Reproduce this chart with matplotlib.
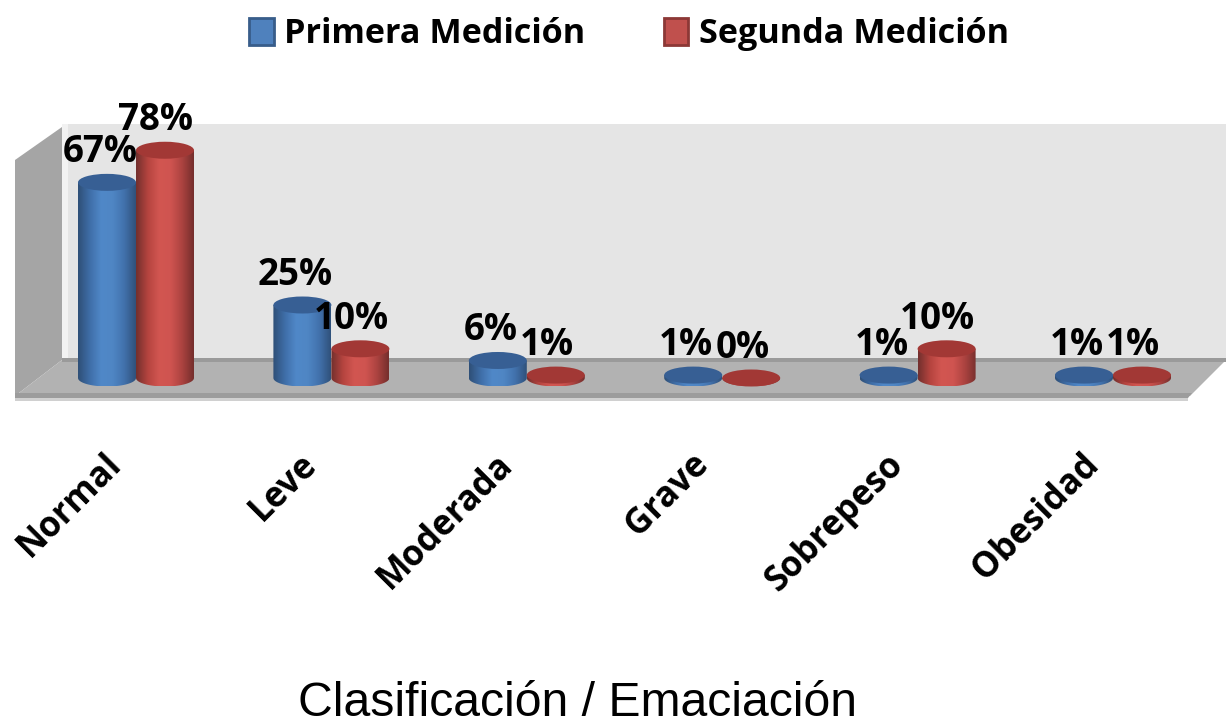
#!/usr/bin/env python
import numpy as np
import matplotlib
matplotlib.use("Agg")
import matplotlib.pyplot as plt
from matplotlib.patches import Ellipse, Polygon, PathPatch, Patch
from matplotlib.path import Path
from matplotlib.transforms import Affine2D
from matplotlib.colors import LinearSegmentedColormap

categorias = ['Normal', 'Leve', 'Moderada', 'Grave', 'Sobrepeso', 'Obesidad']
primera = [67, 25, 6, 1, 1, 1]
segunda = [78, 10, 1, 0, 10, 1]
series_names = ['Primera Medición', 'Segunda Medición']

W, H = 1226, 726
fig = plt.figure(figsize=(W/100, H/100), dpi=100, facecolor='white')

#axes bottom sits just under the floor, tick labels hang below it
bottom_px = 420
ax = fig.add_axes([0, (H-bottom_px)/H, 1, bottom_px/H])
px_per_x = 195.4
px_per_y = 2.92
ax.set_xlim((0-136)/px_per_x, (W-136)/px_per_x)
ax.set_ylim((378-bottom_px)/px_per_y, 378/px_per_y)
ax.patch.set_alpha(0)
for s in ax.spines.values():
    s.set_visible(False)
ax.set_yticks([])

#chart box in pixel coords (y down)
pix = Affine2D().scale(1, -1).translate(0, H)

def box(pts, color, z=0):
    ax.add_patch(Polygon(pts, closed=True, fc=color, ec='none', transform=pix, zorder=z, clip_on=False))

box([(62, 124), (1226, 124), (1226, 362), (62, 362)], '#e5e5e5')
box([(62, 124), (68, 124), (68, 362), (62, 362)], '#f2f2f2')
box([(15, 160), (62, 127), (62, 360), (15, 396)], '#a5a5a5')
box([(62, 360), (1226, 360), (1190, 396), (15, 396)], '#b2b2b2')
box([(62, 358), (1226, 358), (1226, 362), (62, 362)], '#9a9a9a')
box([(15, 393), (1192, 393), (1188, 398), (15, 398)], '#9c9c9c')
box([(15, 398), (1188, 398), (1188, 401), (15, 401)], '#d0d0d0')

blue = LinearSegmentedColormap.from_list('b', ['#2f5078', '#3f6ea8', '#5088c8', '#4f86c4', '#4272ad', '#30527c'])
red = LinearSegmentedColormap.from_list('r', ['#74302e', '#b5443f', '#d25651', '#cf5450', '#ac4340', '#762f2d'])
grad = np.linspace(0, 1, 64).reshape(1, -1)

bar_w = 58/px_per_x
ell_h = 17/px_per_y

def cylinder(x, v, cmap, top_color):
    x0, x1 = x-bar_w/2, x+bar_w/2
    t = np.linspace(np.pi, 2*np.pi, 40)
    xs = x+bar_w/2*np.cos(t)
    ys = ell_h/2*np.sin(t)
    verts = np.vstack([[x0, v], np.column_stack([xs, ys]), [x1, v], [x0, v]])
    im = ax.imshow(grad, cmap=cmap, extent=[x0, x1, -ell_h/2, max(v, 0.01)], aspect='auto', zorder=3)
    clip = PathPatch(Path(verts), transform=ax.transData, fc='none', ec='none')
    ax.add_patch(clip)
    im.set_clip_path(clip)
    ax.add_patch(Ellipse((x, v), bar_w, ell_h, fc=top_color, ec='none', zorder=3.1))

off = 29/px_per_x
for i in range(len(categorias)):
    cylinder(i-off, primera[i], blue, '#375f94')
    cylinder(i+off, segunda[i], red, '#a23835')

label_font = ['Open Sans', 'DejaVu Sans']
for i in range(len(categorias)):
    ax.annotate('%d%%' % primera[i], (i-off, primera[i]), xytext=(-7, 30), textcoords='offset pixels',
                ha='center', va='center', fontsize=26.5, fontweight='bold', family=label_font, color='black', zorder=5)
    ax.annotate('%d%%' % segunda[i], (i+off, segunda[i]), xytext=(-9, 30), textcoords='offset pixels',
                ha='center', va='center', fontsize=26.5, fontweight='bold', family=label_font, color='black', zorder=5)

ax.set_xticks(range(len(categorias)))
ax.set_xticklabels(categorias, rotation=45, ha='right', va='top', rotation_mode='anchor',
                   fontsize=25, fontweight='bold', family=label_font)
ax.tick_params(axis='x', length=0, pad=19)
#labels end left of the category centre in the original
for lab in ax.get_xticklabels():
    lab.set_transform(lab.get_transform() + Affine2D().translate(-32, 0))

ax.set_xlabel('Clasificación / Emaciación', fontsize=34.7, family=['Liberation Sans'])
ax.xaxis.set_label_coords(578/W, (bottom_px-704)/bottom_px)
ax.xaxis.label.set_va('center')

handles = [Patch(fc='#4f81bd', ec='#385d8a', lw=2), Patch(fc='#c0504d', ec='#8c3836', lw=2)]
fig.legend(handles, series_names, loc='center', bbox_to_anchor=(629/W, 1-34/H), ncol=2, frameon=False,
           prop={'family': 'Open Sans', 'weight': 'bold', 'size': 24.6},
           handlelength=0.72, handleheight=0.85, handletextpad=0.3, columnspacing=2.3)

plt.savefig('out.png', dpi=100)
